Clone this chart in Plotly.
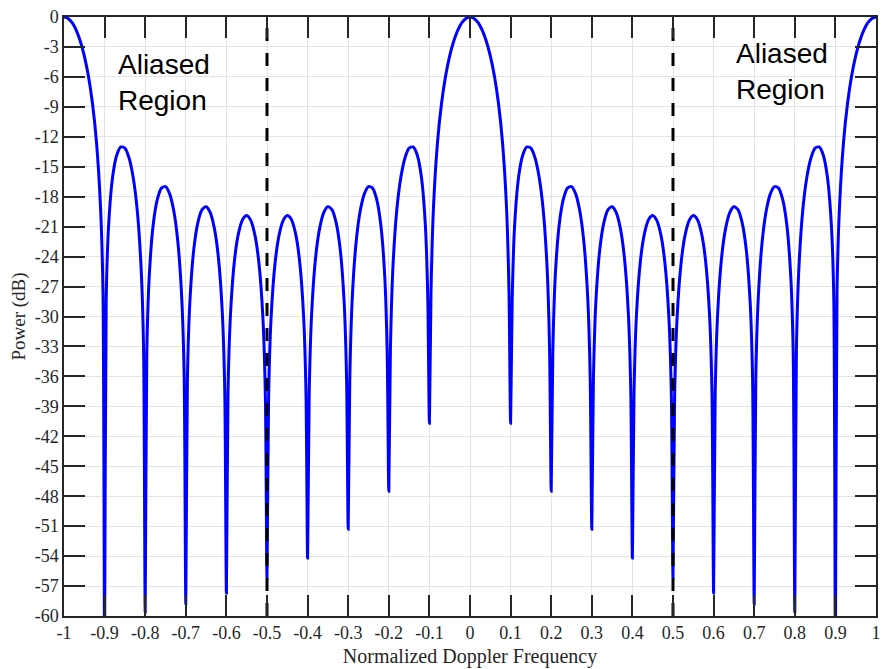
import plotly.graph_objects as go

# Normalized Doppler frequency samples (0 .. 1) and power (dB)
freq_half = [
    0.00, 0.01, 0.02, 0.03, 0.04, 0.05, 0.06, 0.07, 0.08, 0.09, 0.096,
    0.100, 0.104, 0.11, 0.12, 0.13, 0.14, 0.15, 0.16, 0.17, 0.18, 0.19, 0.196,
    0.200, 0.204, 0.21, 0.22, 0.23, 0.24, 0.25, 0.26, 0.27, 0.28, 0.29, 0.296,
    0.300, 0.304, 0.31, 0.32, 0.33, 0.34, 0.35, 0.36, 0.37, 0.38, 0.39, 0.396,
    0.400, 0.404, 0.41, 0.42, 0.43, 0.44, 0.45, 0.46, 0.47, 0.48, 0.49, 0.496,
    0.500, 0.504, 0.51, 0.52, 0.53, 0.54, 0.55, 0.56, 0.57, 0.58, 0.59, 0.596,
    0.600, 0.604, 0.61, 0.62, 0.63, 0.64, 0.65, 0.66, 0.67, 0.68, 0.69, 0.696,
    0.700, 0.704, 0.71, 0.72, 0.73, 0.74, 0.75, 0.76, 0.77, 0.78, 0.79, 0.796,
    0.800, 0.804, 0.81, 0.82, 0.83, 0.84, 0.85, 0.86, 0.87, 0.88, 0.89, 0.896,
    0.900, 0.904, 0.91, 0.92, 0.93, 0.94, 0.95, 0.96, 0.97, 0.98, 0.99, 1.00,
]
power_half = [
    0.00, -0.14, -0.57, -1.31, -2.40, -3.89, -5.89, -8.62, -12.53, -19.11, -27.50,
    -40.7, -28.17, -20.80, -15.94, -13.82, -13.02, -13.14, -14.09, -15.98, -19.20, -25.20, -33.27,
    -47.5, -33.57, -25.95, -20.71, -18.25, -17.14, -16.99, -17.69, -19.34, -22.35, -28.15, -36.12,
    -51.3, -36.28, -28.55, -23.15, -20.54, -19.29, -19.00, -19.57, -21.10, -23.98, -29.67, -37.57,
    -54.2, -37.64, -29.85, -24.34, -21.63, -20.28, -19.89, -20.37, -21.80, -24.60, -30.20, -38.04,
    -56.2, -38.04, -30.20, -24.60, -21.80, -20.37, -19.89, -20.28, -21.63, -24.34, -29.85, -37.64,
    -57.7, -37.57, -29.67, -23.98, -21.10, -19.57, -19.00, -19.29, -20.54, -23.15, -28.55, -36.28,
    -58.8, -36.12, -28.15, -22.35, -19.34, -17.69, -16.99, -17.14, -18.25, -20.71, -25.95, -33.57,
    -59.6, -33.27, -25.20, -19.20, -15.98, -14.09, -13.14, -13.02, -13.82, -15.94, -20.80, -28.17,
    -63.0, -27.50, -19.11, -12.53, -8.62, -5.89, -3.89, -2.40, -1.31, -0.57, -0.14, 0.00,
]

# The spectrum is symmetric about zero Doppler
freq = [-f for f in reversed(freq_half[1:])] + freq_half
power = list(reversed(power_half[1:])) + power_half

x_ticks = [-1, -0.9, -0.8, -0.7, -0.6, -0.5, -0.4, -0.3, -0.2, -0.1, 0,
           0.1, 0.2, 0.3, 0.4, 0.5, 0.6, 0.7, 0.8, 0.9, 1]
x_labels = ["-1", "-0.9", "-0.8", "-0.7", "-0.6", "-0.5", "-0.4", "-0.3", "-0.2", "-0.1", "0",
            "0.1", "0.2", "0.3", "0.4", "0.5", "0.6", "0.7", "0.8", "0.9", "1"]
y_ticks = [0, -3, -6, -9, -12, -15, -18, -21, -24, -27, -30, -33, -36, -39, -42,
           -45, -48, -51, -54, -57, -60]
y_labels = ["0", "-3", "-6", "-9", "-12", "-15", "-18", "-21", "-24", "-27", "-30",
            "-33", "-36", "-39", "-42", "-45", "-48", "-51", "-54", "-57", "-60"]

alias_edges = [-0.5, 0.5]
alias_text = "Aliased<br>Region"

serif = "Liberation Serif, Times New Roman, serif"

fig = go.Figure()
fig.add_trace(go.Scatter(x=freq, y=power, mode="lines",
                         line=dict(color="#0000ff", width=3, shape="spline", smoothing=0.7),
                         hoverinfo="skip"))
for edge in alias_edges:
    fig.add_trace(go.Scatter(x=[edge, edge], y=[-60, 0], mode="lines",
                             line=dict(color="black", width=3, dash="13px,12px"),
                             hoverinfo="skip"))

axis_common = dict(
    showgrid=True, gridcolor="#e3e3e3", gridwidth=1,
    showline=True, linecolor="#262626", linewidth=1.5, mirror="ticks",
    ticks="inside", ticklen=21, tickcolor="#262626", tickwidth=1.5,
    tickfont=dict(family=serif, size=18, color="#262626"),
    zeroline=False, automargin=False,
)

fig.update_layout(
    width=883, height=669,
    margin=dict(l=64, r=7, t=17, b=53),
    paper_bgcolor="white", plot_bgcolor="white",
    showlegend=False,
    xaxis=dict(range=[-1, 1], tickvals=x_ticks, ticktext=x_labels,
               title=dict(text="Normalized Doppler Frequency",
                          font=dict(family=serif, size=20, color="#262626"), standoff=7),
               **axis_common),
    yaxis=dict(range=[-60, 0], tickvals=y_ticks, ticktext=y_labels,
               title=dict(text="Power (dB)",
                          font=dict(family=serif, size=19, color="#262626"), standoff=4),
               **axis_common),
    annotations=[
        dict(x=-0.873, y=-3.0, xref="x", yref="y", text=alias_text, showarrow=False,
             xanchor="left", yanchor="top", align="left",
             font=dict(family="Liberation Sans, Arial, sans-serif", size=28, color="black")),
        dict(x=0.651, y=-1.9, xref="x", yref="y", text=alias_text, showarrow=False,
             xanchor="left", yanchor="top", align="left",
             font=dict(family="Liberation Sans, Arial, sans-serif", size=28, color="black")),
    ],
)

fig.write_html("out.html")
